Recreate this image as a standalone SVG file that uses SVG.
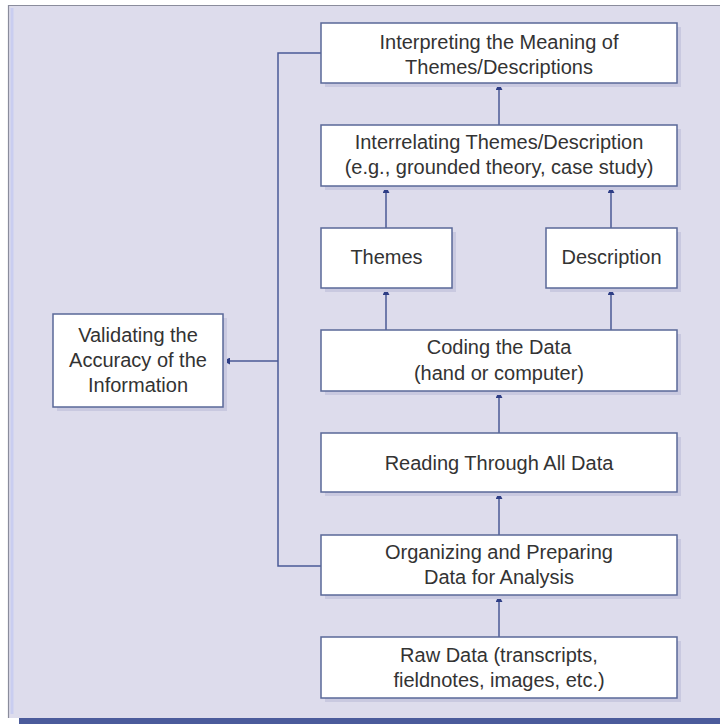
<svg xmlns="http://www.w3.org/2000/svg" width="720" height="724" viewBox="0 0 720 724">
<defs>
<style>
.box{fill:#ffffff;stroke:#5a6898;stroke-width:1.5}
.sh{fill:#c9c9e0}
.t{font-family:"Liberation Sans",Arial,sans-serif;font-size:20px;fill:#333333;text-anchor:middle}
.c{fill:none;stroke:#4a5a96;stroke-width:1.5}
</style>
<marker id="ah" viewBox="0 0 8 8" refX="7" refY="4" markerWidth="7" markerHeight="7" orient="auto" markerUnits="userSpaceOnUse">
<path d="M0,0 L8,4 L0,8 z" fill="#2e3e86"/>
</marker>
</defs>
<rect x="0" y="0" width="720" height="724" fill="#ffffff"/>
<rect x="8" y="5" width="713" height="713" fill="#dddcec"/>
<path d="M8.5,718 V5.5 H720" fill="none" stroke="#8a8c9c" stroke-width="1.2"/>
<line x1="12" y1="8" x2="12" y2="714" stroke="#c9cdf0" stroke-width="3"/>
<rect x="19" y="718" width="701" height="6" fill="#4b5b9b"/>

<g id="connectors">
<line class="c" x1="499" y1="125" x2="499" y2="84" marker-end="url(#ah)"/>
<line class="c" x1="386" y1="228" x2="386" y2="187" marker-end="url(#ah)"/>
<line class="c" x1="611" y1="228" x2="611" y2="187" marker-end="url(#ah)"/>
<line class="c" x1="386" y1="330" x2="386" y2="289" marker-end="url(#ah)"/>
<line class="c" x1="611" y1="330" x2="611" y2="289" marker-end="url(#ah)"/>
<line class="c" x1="499" y1="433" x2="499" y2="392" marker-end="url(#ah)"/>
<line class="c" x1="499" y1="535" x2="499" y2="493" marker-end="url(#ah)"/>
<line class="c" x1="499" y1="637" x2="499" y2="596" marker-end="url(#ah)"/>
<path class="c" d="M321,53 H278 V566 H321"/>
<line class="c" x1="278" y1="361" x2="224" y2="361" marker-end="url(#ah)"/>
</g>

<g id="interpreting">
<rect class="sh" x="325" y="27" width="356" height="60"/>
<rect class="box" x="321" y="23" width="356" height="60"/>
<text class="t" x="499" y="49">Interpreting the Meaning of</text>
<text class="t" x="499" y="74">Themes/Descriptions</text>
</g>
<g id="interrelating">
<rect class="sh" x="325" y="129" width="356" height="61"/>
<rect class="box" x="321" y="125" width="356" height="61"/>
<text class="t" x="499" y="149">Interrelating Themes/Description</text>
<text class="t" x="499" y="174">(e.g., grounded theory, case study)</text>
</g>
<g id="themes">
<rect class="sh" x="325" y="232" width="131" height="60"/>
<rect class="box" x="321" y="228" width="131" height="60"/>
<text class="t" x="386.5" y="264">Themes</text>
</g>
<g id="description">
<rect class="sh" x="550" y="232" width="131" height="60"/>
<rect class="box" x="546" y="228" width="131" height="60"/>
<text class="t" x="611.5" y="264">Description</text>
</g>
<g id="coding">
<rect class="sh" x="325" y="334" width="356" height="61"/>
<rect class="box" x="321" y="330" width="356" height="61"/>
<text class="t" x="499" y="354">Coding the Data</text>
<text class="t" x="499" y="380">(hand or computer)</text>
</g>
<g id="reading">
<rect class="sh" x="325" y="437" width="356" height="59"/>
<rect class="box" x="321" y="433" width="356" height="59"/>
<text class="t" x="499" y="470">Reading Through All Data</text>
</g>
<g id="organizing">
<rect class="sh" x="325" y="539" width="356" height="60"/>
<rect class="box" x="321" y="535" width="356" height="60"/>
<text class="t" x="499" y="559">Organizing and Preparing</text>
<text class="t" x="499" y="584">Data for Analysis</text>
</g>
<g id="rawdata">
<rect class="sh" x="325" y="641" width="356" height="61"/>
<rect class="box" x="321" y="637" width="356" height="61"/>
<text class="t" x="499" y="662">Raw Data (transcripts,</text>
<text class="t" x="499" y="687">fieldnotes, images, etc.)</text>
</g>
<g id="validating">
<rect class="sh" x="57" y="318" width="170" height="93"/>
<rect class="box" x="53" y="314" width="170" height="93"/>
<text class="t" x="138" y="342">Validating the</text>
<text class="t" x="138" y="367">Accuracy of the</text>
<text class="t" x="138" y="392">Information</text>
</g>
</svg>
